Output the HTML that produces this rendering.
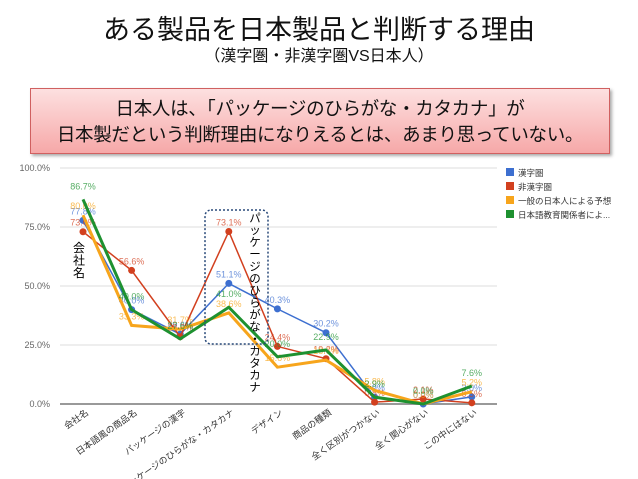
<!DOCTYPE html>
<html><head><meta charset="utf-8"><style>
body{margin:0;width:638px;height:479px;background:#fff;overflow:hidden;font-family:"Liberation Sans","Noto Sans CJK JP",sans-serif;position:relative}
.t{position:absolute;left:0;width:638px;text-align:center;color:#111}
</style></head><body>
<div class="t" style="top:8px;font-size:27px;">ある製品を日本製品と判断する理由</div>
<div class="t" style="top:42px;font-size:16px;">（漢字圏・非漢字圏VS日本人）</div>
<div style="position:absolute;left:30px;top:88px;width:580px;height:66px;background:linear-gradient(#fde0e0,#f6a8a8);border:1px solid #d06060;box-shadow:2px 2px 3px #aaa;text-align:center;font-size:18.5px;line-height:26px;padding-top:7px;box-sizing:border-box;color:#111;z-index:2;white-space:nowrap;letter-spacing:-0.3px">日本人は、「パッケージのひらがな・カタカナ」が<br>日本製だという判断理由になりえるとは、あまり思っていない。</div>
<svg id="c" width="638" height="479" style="position:absolute;left:0;top:0"></svg>
<script>
const categories=["会社名","日本語風の商品名","パッケージの漢字","パッケージのひらがな・カタカナ","デザイン","商品の種類","全く区別がつかない","全く関心がない","この中にはない"];
const seriesNames=["漢字圏","非漢字圏","一般の日本人による予想","日本語教育関係者によ..."];
const kanji=[77.8,40.0,29.6,51.1,40.3,30.2,2.9,0.0,3.0];
const hikanji=[73.0,56.6,28.5,73.1,24.4,19.2,0.8,2.1,0.5];
const ippan=[80.0,33.3,31.7,38.6,15.6,18.6,5.8,0.0,5.2];
const kyoiku=[86.7,40.0,27.6,41.0,20.0,22.9,2.9,0.0,7.6];
const yTicks=[0,25,50,75,100];
const colors=["#3d6fd0","#d2401f","#f7a51c","#1e9130"];
const S=[kanji,hikanji,ippan,kyoiku];
const NS="http://www.w3.org/2000/svg",svg=document.getElementById('c');
const X=i=>83+i*48.6, Y=v=>404-v*2.36;
function mk(t,a,p){const e=document.createElementNS(NS,t);for(const k in a)e.setAttribute(k,a[k]);(p||svg).appendChild(e);return e;}
yTicks.forEach(v=>{
 const l=mk('line',{x1:60,x2:497,y1:Y(v),y2:Y(v),stroke:v===0?'#999':'#ddd','stroke-width':v===0?2:1});
 
 
 const t=mk('text',{x:50,y:Y(v)+3,'font-size':9,fill:'#666','text-anchor':'end'});t.textContent=v.toFixed(1)+'%';
 
 
});
categories.forEach((c,i)=>{
 const t=mk('text',{x:X(i)+6,y:414,'font-size':9,fill:'#333','text-anchor':'end',transform:`rotate(-35 ${X(i)+6} 414)`});t.textContent=c;
 
 
});
S.forEach((s,k)=>{
 const w=k>=2?3:1.5;
 const p=mk('polyline',{points:s.map((v,i)=>X(i)+','+Y(v)).join(' '),fill:'none',stroke:colors[k],'stroke-width':w});
 
 
 s.forEach((v,i)=>{
  if(k<2){const d=mk('circle',{cx:X(i),cy:Y(v),r:3.5,fill:colors[k]});
  
  }
  const t=mk('text',{x:X(i),y:Y(v)-6-(k===3?4:0),'font-size':9,fill:colors[k],'fill-opacity':0.75,'text-anchor':'middle'});t.textContent=v.toFixed(1)+'%';
  
  
 });
});
seriesNames.forEach((n,k)=>{
 const r=mk('rect',{x:506,y:168+k*14,width:8,height:8,fill:colors[k]});
 
 
 const t=mk('text',{x:518,y:176+k*14,'font-size':8.5,fill:'#333'});t.textContent=n;
 
 
});
const b=mk('rect',{x:205,y:210,width:63,height:134,rx:6,fill:'none',stroke:'#2a4a7a','stroke-width':1.5,'stroke-dasharray':'2,2'});


function vt(str,x,y,fs,name){str.split('').forEach((ch,i)=>{const t=mk('text',{x:x,y:y+i*fs*1.05,'font-size':fs,fill:'#000','text-anchor':'middle'});t.textContent=ch;
 
 });}
vt("会社名",79,252,12,'annotation-company');
vt("パッケージのひらがな・カタカナ",255,222,11.5,'annotation-package');
</script>
</body></html>
